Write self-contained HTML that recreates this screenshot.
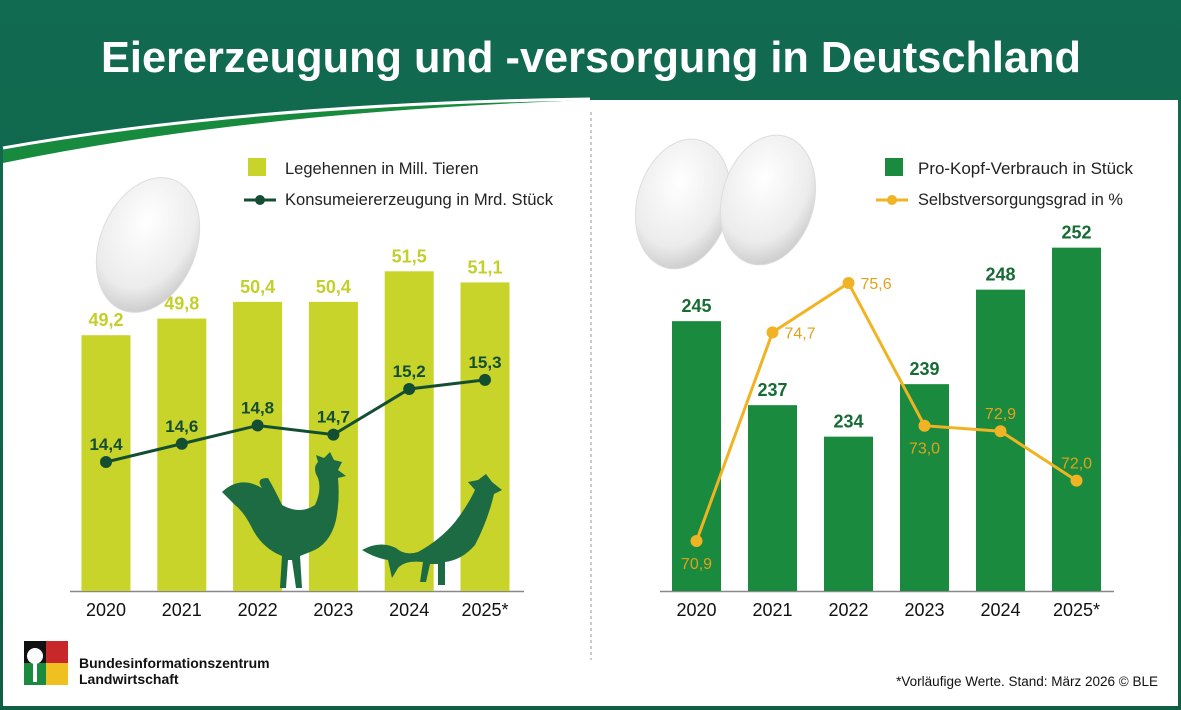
<!DOCTYPE html>
<html><head><meta charset="utf-8"><style>
html,body{margin:0;padding:0;background:#0f6a4e;}
svg{display:block;font-family:"Liberation Sans",sans-serif;}
</style></head><body>
<svg id="chart" width="1181" height="710" viewBox="0 0 1181 710" xmlns="http://www.w3.org/2000/svg">
<defs>
<linearGradient id="hdr" x1="0" y1="0" x2="0" y2="1"><stop offset="0" stop-color="#116b50"/><stop offset="1" stop-color="#0f5f45"/></linearGradient>
<radialGradient id="egg" cx="0.4" cy="0.35" r="0.7"><stop offset="0" stop-color="#ffffff"/><stop offset="0.7" stop-color="#ececec"/><stop offset="1" stop-color="#c9c9c9"/></radialGradient>
</defs>
<rect x="0" y="0" width="1181" height="710" fill="url(#hdr)"/>
<path d="M3,150 Q250,105 590,100 L1178,100 L1178,706 L3,706 Z" fill="#178a3e"/>
<path d="M3,148 Q250,104 590,99" stroke="#ffffff" stroke-width="3" fill="none"/>
<path d="M3,163 Q250,112 590,100 L1178,100 L1178,706 L3,706 Z" fill="#ffffff"/>
<text x="591" y="72" text-anchor="middle" font-size="44" font-weight="bold" fill="#ffffff" textLength="980" lengthAdjust="spacingAndGlyphs">Eiererzeugung und -versorgung in Deutschland</text>
<line x1="591" y1="112" x2="591" y2="660" stroke="#999" stroke-dasharray="3,3"/>

<!-- eggs -->
<ellipse cx="148" cy="245" rx="48" ry="70" transform="rotate(22 148 245)" fill="url(#egg)" stroke="#ddd"/>
<ellipse cx="683" cy="204" rx="46" ry="66" transform="rotate(15 683 204)" fill="url(#egg)" stroke="#ddd"/>
<ellipse cx="768" cy="200" rx="46" ry="66" transform="rotate(15 768 200)" fill="url(#egg)" stroke="#ddd"/>

<!-- legends -->
<rect x="248" y="158" width="18" height="18" fill="#c8d42a"/>
<text x="285" y="174" font-size="16.5" fill="#222">Legehennen in Mill. Tieren</text>
<line x1="244" y1="200" x2="276" y2="200" stroke="#144e32" stroke-width="3"/>
<circle cx="260" cy="200" r="5" fill="#144e32"/>
<text x="285" y="205" font-size="16.5" fill="#222" textLength="268" lengthAdjust="spacingAndGlyphs">Konsumeiererzeugung in Mrd. Stück</text>
<rect x="885" y="158" width="18" height="18" fill="#198a3e"/>
<text x="918" y="174" font-size="16.5" fill="#222" textLength="215" lengthAdjust="spacingAndGlyphs">Pro-Kopf-Verbrauch in Stück</text>
<line x1="876" y1="200" x2="908" y2="200" stroke="#f0b323" stroke-width="3"/>
<circle cx="892" cy="200" r="5" fill="#f0b323"/>
<text x="918" y="205" font-size="16.5" fill="#222" textLength="205" lengthAdjust="spacingAndGlyphs">Selbstversorgungsgrad in %</text>

<g id="left"></g>
<g id="right"></g>

<!-- chickens -->
<g fill="#1c6b43">
<path d="M222,492 Q240,475 262,488 Q255,478 268,478 Q275,490 282,505 Q300,515 315,505 Q322,490 318,478 Q312,468 318,462 L316,455 L324,458 L330,452 L334,460 L342,462 L338,470 L346,476 L338,478 Q340,500 336,520 Q330,545 310,552 L300,556 L302,588 L296,588 L292,560 L288,560 L286,588 L280,588 L282,556 Q262,548 252,528 Q244,512 235,505 Z"/>
<path d="M362,550 Q380,540 396,548 Q405,556 418,552 Q440,540 455,522 Q468,505 475,490 L468,482 L478,480 L486,474 L492,482 L502,490 L494,494 Q488,520 475,545 Q462,560 445,562 L445,585 L438,585 L438,564 L430,564 L426,582 L420,582 L423,562 Q405,560 398,568 L392,578 L388,560 Q375,558 362,550 Z"/>
</g>

<!-- logo -->
<g>
<rect x="24" y="641" width="22" height="22" fill="#111"/>
<rect x="46" y="641" width="22" height="22" fill="#c8282a"/>
<rect x="24" y="663" width="22" height="22" fill="#198a3e"/>
<rect x="46" y="663" width="22" height="22" fill="#f0c020"/>
<circle cx="35" cy="656" r="8" fill="#fff"/>
<rect x="33" y="660" width="4" height="22" fill="#fff"/>
<text x="79" y="668" font-size="14" font-weight="bold" fill="#111">Bundesinformationszentrum</text>
<text x="79" y="684" font-size="14" font-weight="bold" fill="#111">Landwirtschaft</text>
</g>
<text x="1158" y="686" text-anchor="end" font-size="13.5" fill="#111">*Vorläufige Werte. Stand: März 2026 © BLE</text>
</svg>
<script>
const years = ["2020","2021","2022","2023","2024","2025*"];
const hens = [49.2,49.8,50.4,50.4,51.5,51.1];
const hensLabels = ["49,2","49,8","50,4","50,4","51,5","51,1"];
const eggs = [14.4,14.6,14.8,14.7,15.2,15.3];
const eggsLabels = ["14,4","14,6","14,8","14,7","15,2","15,3"];
const consumption = [245,237,234,239,248,252];
const consumptionLabels = ["245","237","234","239","248","252"];
const selfSuff = [70.9,74.7,75.6,73.0,72.9,72.0];
const selfSuffLabels = ["70,9","74,7","75,6","73,0","72,9","72,0"];

const NS="http://www.w3.org/2000/svg";
function mk(parent,tag,attrs,txt){const e=document.createElementNS(NS,tag);for(const k in attrs)e.setAttribute(k,attrs[k]);if(txt!==undefined)e.textContent=txt;parent.appendChild(e);return e;}
const base=591;
const xL=i=>106+i*75.8, xR=i=>696.5+i*76;
const yHens=v=>base-(v-40)*27.8;
const yEggs=v=>462-(v-14.4)*91.25;
const yCons=v=>base-(v-219.3)*10.5;
const ySelf=v=>541-(v-70.9)*54.9;

const L=document.getElementById('left'), R=document.getElementById('right');
let ax=mk(L,'line',{x1:70,x2:524,y1:base+0.5,y2:base+0.5,stroke:'#888','stroke-width':1.5});


ax=mk(R,'line',{x1:660,x2:1114,y1:base+0.5,y2:base+0.5,stroke:'#888','stroke-width':1.5});



hens.forEach((v,i)=>{
  const y=yHens(v);
  const b=mk(L,'rect',{x:xL(i)-24.5,y:y,width:49,height:base-y,fill:'#c8d42a'});
  
  
  const t=mk(L,'text',{x:xL(i),y:y-9,'text-anchor':'middle','font-size':18,'font-weight':'bold',fill:'#c3cf2a'},hensLabels[i]);
  
  
  const yl=mk(L,'text',{x:xL(i),y:616,'text-anchor':'middle','font-size':18,fill:'#111'},years[i]);
  
  
});
const pl=mk(L,'polyline',{points:eggs.map((v,i)=>xL(i)+','+yEggs(v)).join(' '),fill:'none',stroke:'#144e32','stroke-width':3});


eggs.forEach((v,i)=>{
  const c=mk(L,'circle',{cx:xL(i),cy:yEggs(v),r:6,fill:'#144e32'});
  
  
  const t=mk(L,'text',{x:xL(i),y:yEggs(v)-12,'text-anchor':'middle','font-size':17,'font-weight':'bold',fill:'#144e32'},eggsLabels[i]);
  
  
});

consumption.forEach((v,i)=>{
  const y=yCons(v);
  const b=mk(R,'rect',{x:xR(i)-24.5,y:y,width:49,height:base-y,fill:'#198a3e'});
  
  
  const t=mk(R,'text',{x:xR(i),y:y-9,'text-anchor':'middle','font-size':18,'font-weight':'bold',fill:'#176b35'},consumptionLabels[i]);
  
  
  const yl=mk(R,'text',{x:xR(i),y:616,'text-anchor':'middle','font-size':18,fill:'#111'},years[i]);
  
  
});
const pr=mk(R,'polyline',{points:selfSuff.map((v,i)=>xR(i)+','+ySelf(v)).join(' '),fill:'none',stroke:'#f0b323','stroke-width':3});


const off=[[0,28],[12,6],[12,6],[0,28],[0,-12],[0,-12]];
selfSuff.forEach((v,i)=>{
  const c=mk(R,'circle',{cx:xR(i),cy:ySelf(v),r:6,fill:'#f0b323'});
  
  
  const anchor=off[i][0]?'start':'middle';
  const t=mk(R,'text',{x:xR(i)+off[i][0],y:ySelf(v)+off[i][1],'text-anchor':anchor,'font-size':16,fill:'#e0a21c'},selfSuffLabels[i]);
  
  
});
</script>
</body></html>
